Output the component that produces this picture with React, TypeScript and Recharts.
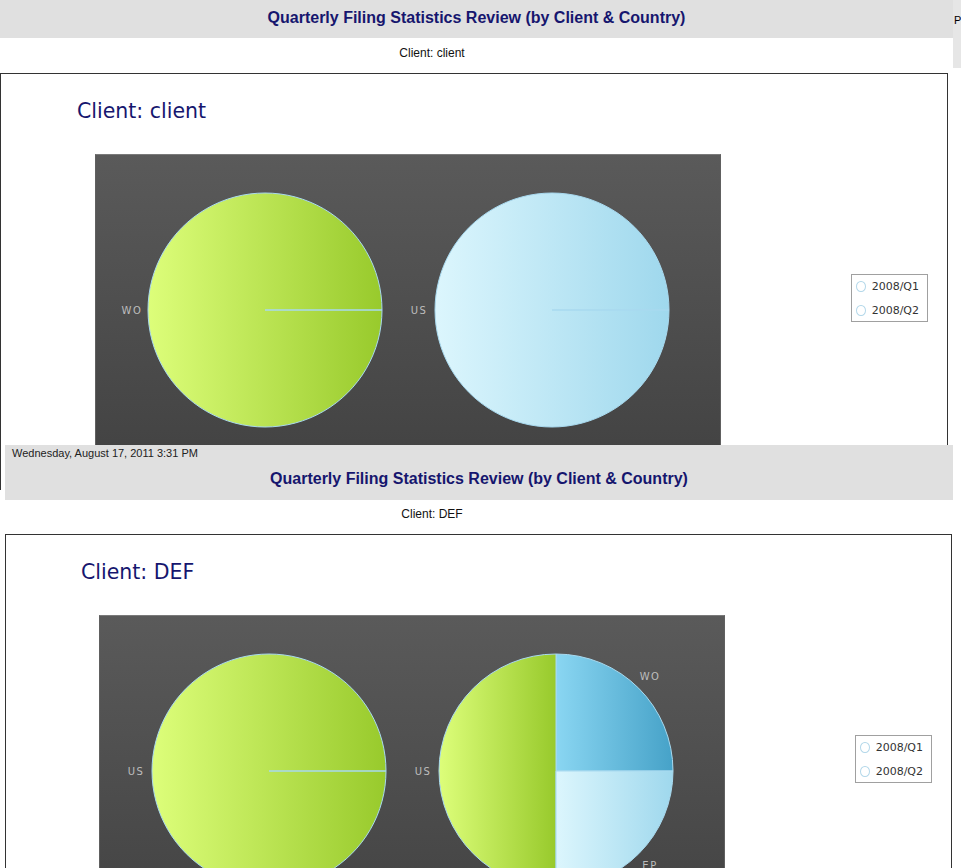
import React from "react";
import { PieChart, Pie, Cell, Legend } from "recharts";

// legend series (one pie per quarter)
const quarters = ["2008/Q1", "2008/Q2"];

// client "client": filings by country per quarter
const clientQ1 = [{ country: "WO", filings: 1 }];
const clientQ2 = [{ country: "US", filings: 1 }];

// client "DEF": filings by country per quarter
const defQ1 = [{ country: "US", filings: 1 }];
const defQ2 = [
  { country: "WO", filings: 1 },
  { country: "US", filings: 2 },
  { country: "EP", filings: 1 },
];

const clientFills = [["green"], ["pale"]];
const defFills = [["green"], ["blue", "green", "pale"]];

const REPORT_TITLE = "Quarterly Filing Statistics Review (by Client & Country)";
const PRINTED_AT = "Wednesday, August 17, 2011 3:31 PM";

const RADIAN = Math.PI / 180;
const NAVY = "#16166e";

const renderLabel = (props: any) => {
  const { cx, cy, midAngle, outerRadius, name } = props;
  const r = outerRadius + 16;
  const x = cx + r * Math.cos(-midAngle * RADIAN);
  const y = cy + r * Math.sin(-midAngle * RADIAN);
  return (
    <text
      x={x}
      y={y}
      fill="#bdbdbd"
      fontSize={10}
      fontFamily="DejaVu Sans"
      letterSpacing={1.5}
      textAnchor="middle"
      dominantBaseline="central"
    >
      {name}
    </text>
  );
};

const QuarterLegend = () => (
  <div
    style={{
      border: "1px solid #a0a0a0",
      background: "#fff",
      padding: "0 8px 0 4px",
      fontFamily: "DejaVu Sans",
      fontSize: 11,
      color: "#333",
    }}
  >
    {quarters.map((q, i) => (
      <div
        key={q}
        style={{
          display: "flex",
          alignItems: "center",
          height: 22,
          marginBottom: i === 0 ? 2 : 0,
        }}
      >
        <span
          style={{
            display: "inline-block",
            width: 9,
            height: 9,
            borderRadius: "50%",
            border: "1px solid #b4d8ea",
            marginRight: 6,
          }}
        />
        {q}
      </div>
    ))}
  </div>
);

function ClientChart({
  id,
  pies,
  fills,
}: {
  id: string;
  pies: { country: string; filings: number }[][];
  fills: string[][];
}) {
  const centers = [170, 457];
  return (
    <div style={{ position: "relative", width: 840, height: 300 }}>
      <div
        style={{
          position: "absolute",
          left: 0,
          top: 0,
          width: 624,
          height: 300,
          borderTop: "1px solid #7a7a7a",
          borderLeft: "1px solid #606060",
          borderRight: "1px solid #606060",
          background: "linear-gradient(#5a5a5a, #434343 300px)",
        }}
      />
      <PieChart
        width={840}
        height={300}
        margin={{ top: 0, right: 0, bottom: 0, left: 0 }}
        style={{ position: "absolute", left: 0, top: 0 }}
      >
        <defs>
          <linearGradient id={`${id}-green`} x1="0" y1="0" x2="1" y2="0">
            <stop offset="0%" stopColor="#ddfe7a" />
            <stop offset="100%" stopColor="#98ca2c" />
          </linearGradient>
          <linearGradient id={`${id}-pale`} x1="0" y1="0" x2="1" y2="0">
            <stop offset="0%" stopColor="#dcf6fd" />
            <stop offset="100%" stopColor="#9fd8ed" />
          </linearGradient>
          <linearGradient id={`${id}-blue`} x1="0" y1="0" x2="1" y2="0">
            <stop offset="0%" stopColor="#8ad6f2" />
            <stop offset="100%" stopColor="#46a2c8" />
          </linearGradient>
        </defs>
        {pies.map((data, i) => (
          <Pie
            key={quarters[i]}
            name={quarters[i]}
            data={data}
            dataKey="filings"
            nameKey="country"
            cx={centers[i]}
            cy={156}
            outerRadius={117}
            startAngle={0}
            endAngle={360}
            stroke="#a8d9ef"
            strokeWidth={1}
            label={renderLabel}
            labelLine={false}
            isAnimationActive={false}
          >
            {data.map((d, j) => (
              <Cell key={d.country} fill={`url(#${id}-${fills[i][j]})`} />
            ))}
          </Pie>
        ))}
        <Legend
          layout="vertical"
          align="right"
          verticalAlign="middle"
          content={<QuarterLegend />}
          wrapperStyle={{ left: 756, top: 120, width: 77, right: "auto" }}
        />
      </PieChart>
    </div>
  );
}

function Header({ left, top, height, titleY, date }: any) {
  return (
    <div
      style={{
        position: "absolute",
        left,
        top,
        width: 953 - left,
        height,
        background: "#e0e0e0",
        fontFamily: "Liberation Sans",
      }}
    >
      {date && (
        <div
          style={{
            position: "absolute",
            left: 12 - left,
            top: 2,
            fontSize: 11,
            color: "#222",
          }}
        >
          {date}
        </div>
      )}
      <div
        style={{
          position: "absolute",
          left: 0,
          right: 0,
          top: titleY,
          textAlign: "center",
          fontSize: 16,
          fontWeight: "bold",
          color: NAVY,
        }}
      >
        {REPORT_TITLE}
      </div>
    </div>
  );
}

export default function App() {
  return (
    <div
      style={{
        position: "absolute",
        left: 0,
        top: 0,
        width: 961,
        height: 868,
        overflow: "hidden",
        background: "#fff",
      }}
    >
      {/* first page */}
      <div
        style={{
          position: "absolute",
          left: 0,
          top: 0,
          width: 961,
          height: 490,
          overflow: "hidden",
        }}
      >
        <Header left={0} top={0} height={38} titleY={9} />
        <div
          style={{
            position: "absolute",
            left: 953,
            top: 0,
            width: 8,
            height: 68,
            background: "#e6e6e6",
          }}
        />
        <div
          style={{
            position: "absolute",
            left: 954,
            top: 14,
            fontSize: 11,
            fontFamily: "Liberation Sans",
          }}
        >
          P
        </div>
        <div
          style={{
            position: "absolute",
            left: 0,
            width: 864,
            top: 46,
            textAlign: "center",
            fontFamily: "Liberation Sans",
            fontSize: 12,
            color: "#111",
          }}
        >
          Client: client
        </div>
        <div
          style={{
            position: "absolute",
            left: 0,
            top: 73,
            width: 946,
            height: 500,
            border: "1px solid #333",
          }}
        />
        <div
          style={{
            position: "absolute",
            left: 77,
            top: 99,
            fontFamily: "DejaVu Sans",
            fontSize: 20.5,
            color: NAVY,
          }}
        >
          Client: client
        </div>
        <div style={{ position: "absolute", left: 95, top: 154 }}>
          <ClientChart
            id="c1"
            pies={[clientQ1, clientQ2]}
            fills={clientFills}
          />
        </div>
      </div>

      {/* second page */}
      <Header left={5} top={445} height={55} titleY={25} date={PRINTED_AT} />
      <div
        style={{
          position: "absolute",
          left: 0,
          width: 864,
          top: 507,
          textAlign: "center",
          fontFamily: "Liberation Sans",
          fontSize: 12,
          color: "#111",
        }}
      >
        Client: DEF
      </div>
      <div
        style={{
          position: "absolute",
          left: 5,
          top: 534,
          width: 945,
          height: 500,
          border: "1px solid #333",
        }}
      />
      <div
        style={{
          position: "absolute",
          left: 81,
          top: 560,
          fontFamily: "DejaVu Sans",
          fontSize: 20.5,
          color: NAVY,
        }}
      >
        Client: DEF
      </div>
      <div style={{ position: "absolute", left: 99, top: 615 }}>
        <ClientChart id="c2" pies={[defQ1, defQ2]} fills={defFills} />
      </div>
    </div>
  );
}
